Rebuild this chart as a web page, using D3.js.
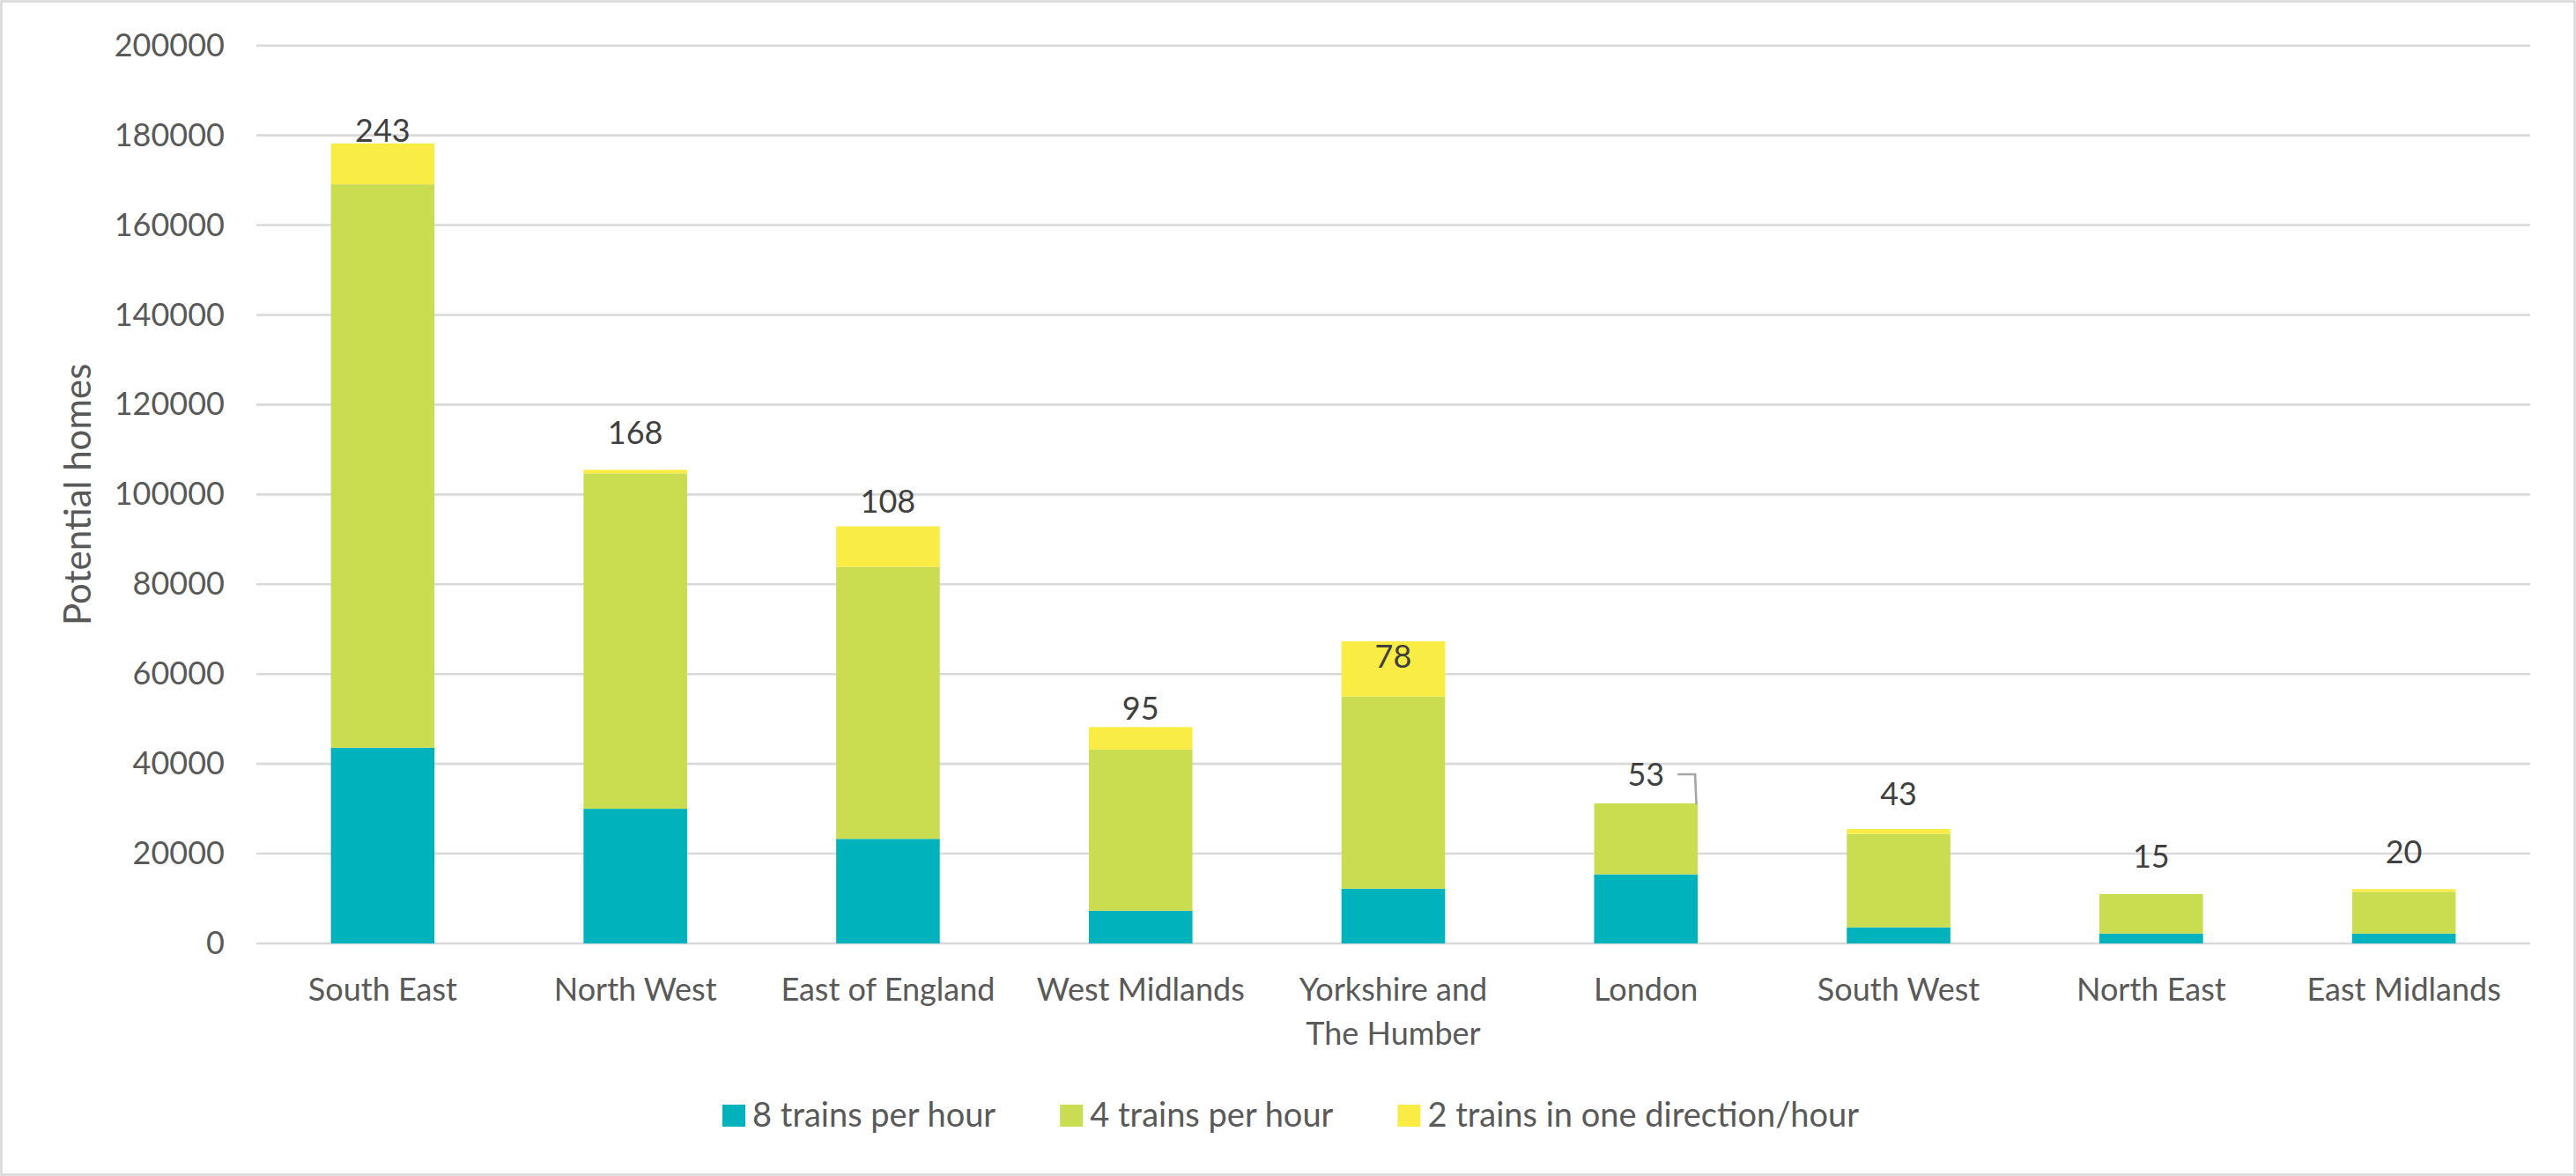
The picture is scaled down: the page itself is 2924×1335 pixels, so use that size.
<!DOCTYPE html>
<html>
<head>
<meta charset="utf-8">
<script src="https://cdn.jsdelivr.net/npm/d3@7/dist/d3.min.js"></script>
<style>
  html, body { margin: 0; padding: 0; background: #fff; }
  svg { display: block; }
  text { font-family: Lato, "Liberation Sans", sans-serif; }
</style>
</head>
<body>
<svg id="chart" width="2924" height="1335"></svg>
<script>
// ---- data ----
const categories = ["South East", "North West", "East of England", "West Midlands",
  "Yorkshire and The Humber", "London", "South West", "North East", "East Midlands"];
const trains8 = [43600, 30000, 23300, 7300, 12200, 15400, 3600, 2200, 2200];
const trains4 = [125500, 74700, 60600, 35900, 42800, 15800, 20800, 8800, 9300];
const trains2 = [9100, 800, 9000, 5000, 12300, 0, 1100, 0, 600];
const stationLabels = [243, 168, 108, 95, 78, 53, 43, 15, 20];
const seriesNames = ["8 trains per hour", "4 trains per hour", "2 trains in one direction/hour"];
const yTicks = [0, 20000, 40000, 60000, 80000, 100000, 120000, 140000, 160000, 180000, 200000];

// ---- layout / style (not data) ----
const colors = ["#00B2BC", "#CADC50", "#F9EC45"];
const labelDy = [15, 42, 28, 21, -17, 33, 40, 43, 42]; // label centre above stack top (px)
const W = 2924, H = 1335;
const plot = { left: 291, right: 2872, top: 51.7, bottom: 1071 };

const svg = d3.select("#chart");

// border
svg.append("rect").attr("x", 1.5).attr("y", 1.5).attr("width", W - 3).attr("height", H - 3)
  .attr("fill", "#fff").attr("stroke", "#D9D9D9").attr("stroke-width", 2.6);

const x = d3.scaleBand().domain(categories).range([plot.left, plot.right])
  .paddingInner(0.59).paddingOuter(0.295);
const y = d3.scaleLinear().domain([0, 200000]).range([plot.bottom, plot.top]);

// gridlines
svg.append("g").selectAll("line").data(yTicks).join("line")
  .attr("x1", plot.left).attr("x2", plot.right)
  .attr("y1", d => y(d)).attr("y2", d => y(d))
  .attr("stroke", "#D9D9D9").attr("stroke-width", 2.6);

// y axis
const yAxis = svg.append("g").attr("transform", `translate(${plot.left},0)`)
  .call(d3.axisLeft(y).tickValues(yTicks).tickFormat(d3.format("d")).tickSize(0).tickPadding(36));
yAxis.select(".domain").remove();
yAxis.selectAll("text").attr("font-size", 36).attr("fill", "#595959")
  .attr("font-family", "Lato, 'Liberation Sans', sans-serif");

// stacked data
const rows = categories.map((c, i) => ({ cat: c, s0: trains8[i], s1: trains4[i], s2: trains2[i] }));
const stack = d3.stack().keys(["s0", "s1", "s2"])(rows);

svg.append("g").selectAll("g").data(stack).join("g")
  .attr("fill", (d, i) => colors[i])
  .selectAll("rect").data(d => d).join("rect")
  .attr("x", d => x(d.data.cat))
  .attr("width", x.bandwidth())
  .attr("y", d => y(d[1]))
  .attr("height", d => Math.max(0, y(d[0]) - y(d[1])));

// data labels
const totals = rows.map(r => r.s0 + r.s1 + r.s2);
const lbl = svg.append("g").selectAll("text").data(stationLabels).join("text")
  .attr("x", (d, i) => x(categories[i]) + x.bandwidth() / 2)
  .attr("y", (d, i) => y(totals[i]) - labelDy[i])
  .attr("dy", "0.36em")
  .attr("text-anchor", "middle")
  .attr("font-size", 36).attr("fill", "#404040")
  .text(d => d);

// leader line for London label
const li = categories.indexOf("London");
const lNode = lbl.nodes()[li];
const lw = lNode.getComputedTextLength();
const lx = x(categories[li]) + x.bandwidth() / 2, ly = y(totals[li]) - labelDy[li];
const bx = x(categories[li]) + x.bandwidth();
svg.append("path")
  .attr("d", `M${lx + lw / 2 + 15},${ly} L${bx - 3},${ly} L${bx - 1.5},${y(totals[li]) + 1}`)
  .attr("fill", "none").attr("stroke", "#A6A6A6").attr("stroke-width", 2.6);

// x labels with wrapping
const xl = svg.append("g").selectAll("text").data(categories).join("text")
  .attr("x", d => x(d) + x.bandwidth() / 2)
  .attr("y", 1136)
  .attr("text-anchor", "middle")
  .attr("font-size", 36).attr("fill", "#595959");
xl.each(function (d) {
  const t = d3.select(this);
  const words = d.split(" ");
  const maxW = x.step() - 20;
  let line = [], lines = [];
  const probe = t.append("tspan");
  words.forEach(w => {
    const test = line.concat([w]).join(" ");
    probe.text(test);
    if (probe.node().getComputedTextLength() > maxW && line.length) {
      lines.push(line.join(" "));
      line = [w];
    } else line.push(w);
  });
  lines.push(line.join(" "));
  probe.remove();
  lines.forEach((ln, k) => {
    t.append("tspan").attr("x", x(d) + x.bandwidth() / 2).attr("dy", k === 0 ? 0 : 50).text(ln);
  });
});

// y axis title
svg.append("text")
  .attr("transform", `translate(103,${(plot.top + plot.bottom) / 2}) rotate(-90)`)
  .attr("text-anchor", "middle")
  .attr("font-size", 42).attr("fill", "#595959")
  .text("Potential homes");

// legend
const leg = svg.append("g");
let lxPos = 820;
seriesNames.forEach((name, i) => {
  leg.append("rect").attr("x", lxPos).attr("y", 1254).attr("width", 26).attr("height", 25)
    .attr("fill", colors[i]);
  const t = leg.append("text").attr("x", lxPos + 34).attr("y", 1279)
    .attr("font-size", 38).attr("fill", "#595959").text(name);
  lxPos += 34 + t.node().getComputedTextLength() + 73;
});
</script>
</body>
</html>
